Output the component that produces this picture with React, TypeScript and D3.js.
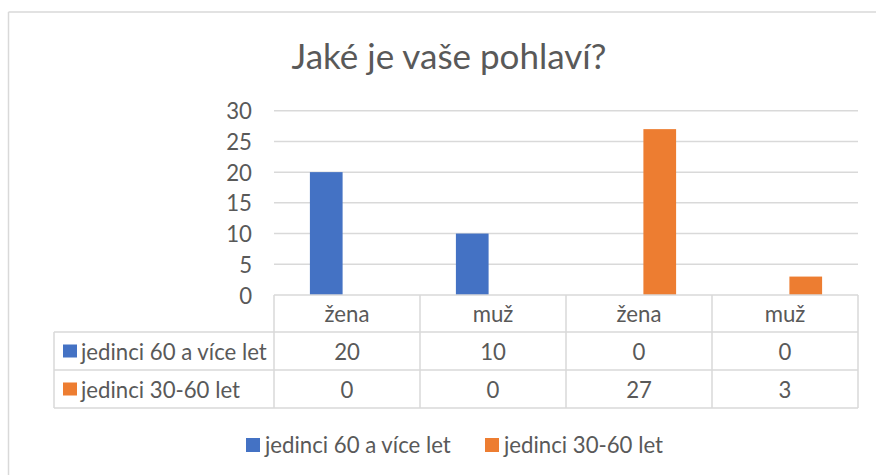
import React from "react";
import * as d3 from "d3";

const categories = ["žena", "muž", "žena", "muž"];
const seriesNames = ["jedinci 60 a více let", "jedinci 30-60 let"];
const seriesA = [20, 10, 0, 0];
const seriesB = [0, 0, 27, 3];
const colors = ["#4472C4", "#ED7D31"];
const yTicks = [0, 5, 10, 15, 20, 25, 30];
const title = "Jaké je vaše pohlaví?";

const W = 876;
const H = 475;
const FONT = "Lato, 'Open Sans', sans-serif";
const TXT = "#595959";
const GRID = "#d9d9d9";

export default function App() {
  const series = [seriesA, seriesB];
  const plotL = 274, plotR = 858, plotT = 110.7, plotB = 295;
  const tableL = 54;
  const rowY = [295, 332, 370, 408];

  const x = d3.scaleBand<number>().domain(categories.map((_, i) => i)).range([plotL, plotR]);
  const xs = d3.scaleBand<number>().domain([0, 1]).range([0, x.bandwidth()]).paddingInner(0.212).paddingOuter(0.865);
  const y = d3.scaleLinear().domain([0, 30]).range([plotB, plotT]);

  const fs = 22.2;
  return (
    <svg width={W} height={H} style={{ position: "absolute", left: 0, top: 0, display: "block" }} fontFamily={FONT}>
      <rect x={0} y={0} width={W} height={H} fill="#fff" />
      <line x1={8.5} x2={W} y1={12} y2={12} stroke={GRID} strokeWidth={1.5} />
      <line x1={8.5} x2={8.5} y1={12} y2={H} stroke={GRID} strokeWidth={1.5} />
      <text x={449} y={55} textAnchor="middle" dominantBaseline="central" fontSize={35} fill={TXT}>{title}</text>
      {yTicks.map((t) => (
        <g key={t}>
          {t !== 0 && <line x1={plotL} x2={plotR} y1={y(t)} y2={y(t)} stroke={GRID} strokeWidth={1.5} />}
          <text x={252} y={y(t)} textAnchor="end" dominantBaseline="central" fontSize={fs} fill={TXT}>{t}</text>
        </g>
      ))}
      {series.map((vals, si) =>
        vals.map((v, ci) => (
          <rect key={`${si}-${ci}`} x={(x(ci) ?? 0) + (xs(si) ?? 0)} y={y(v)} width={xs.bandwidth()} height={y(0) - y(v)} fill={colors[si]} />
        ))
      )}
      <line x1={plotL} x2={plotR} y1={rowY[0]} y2={rowY[0]} stroke={GRID} strokeWidth={1.5} />
      {rowY.slice(1).map((ry, i) => (
        <line key={i} x1={tableL} x2={plotR} y1={ry} y2={ry} stroke={GRID} strokeWidth={1.5} />
      ))}
      <line x1={tableL} x2={tableL} y1={rowY[1]} y2={rowY[3]} stroke={GRID} strokeWidth={1.5} />
      {categories.map((_, i) => (
        <line key={i} x1={x(i) ?? 0} x2={x(i) ?? 0} y1={rowY[0]} y2={rowY[3]} stroke={GRID} strokeWidth={1.5} />
      ))}
      <line x1={plotR} x2={plotR} y1={rowY[0]} y2={rowY[3]} stroke={GRID} strokeWidth={1.5} />
      {categories.map((c, i) => (
        <text key={i} x={(x(i) ?? 0) + x.bandwidth() / 2} y={(rowY[0] + rowY[1]) / 2} textAnchor="middle" dominantBaseline="central" fontSize={fs} fill={TXT}>{c}</text>
      ))}
      {series.map((vals, si) => (
        <g key={si}>
          <rect x={63} y={(rowY[si + 1] + rowY[si + 2]) / 2 - 6.5} width={14} height={13} fill={colors[si]} />
          <text x={81} y={(rowY[si + 1] + rowY[si + 2]) / 2} dominantBaseline="central" fontSize={fs} fill={TXT}>{seriesNames[si]}</text>
          {vals.map((v, ci) => (
            <text key={ci} x={(x(ci) ?? 0) + x.bandwidth() / 2} y={(rowY[si + 1] + rowY[si + 2]) / 2} textAnchor="middle" dominantBaseline="central" fontSize={fs} fill={TXT}>{v}</text>
          ))}
        </g>
      ))}
      {[246, 485].map((lx, si) => (
        <g key={si}>
          <rect x={lx} y={438} width={14} height={14} fill={colors[si]} />
          <text x={lx + 19} y={444} dominantBaseline="central" fontSize={fs} fill={TXT}>{seriesNames[si]}</text>
        </g>
      ))}
    </svg>
  );
}
